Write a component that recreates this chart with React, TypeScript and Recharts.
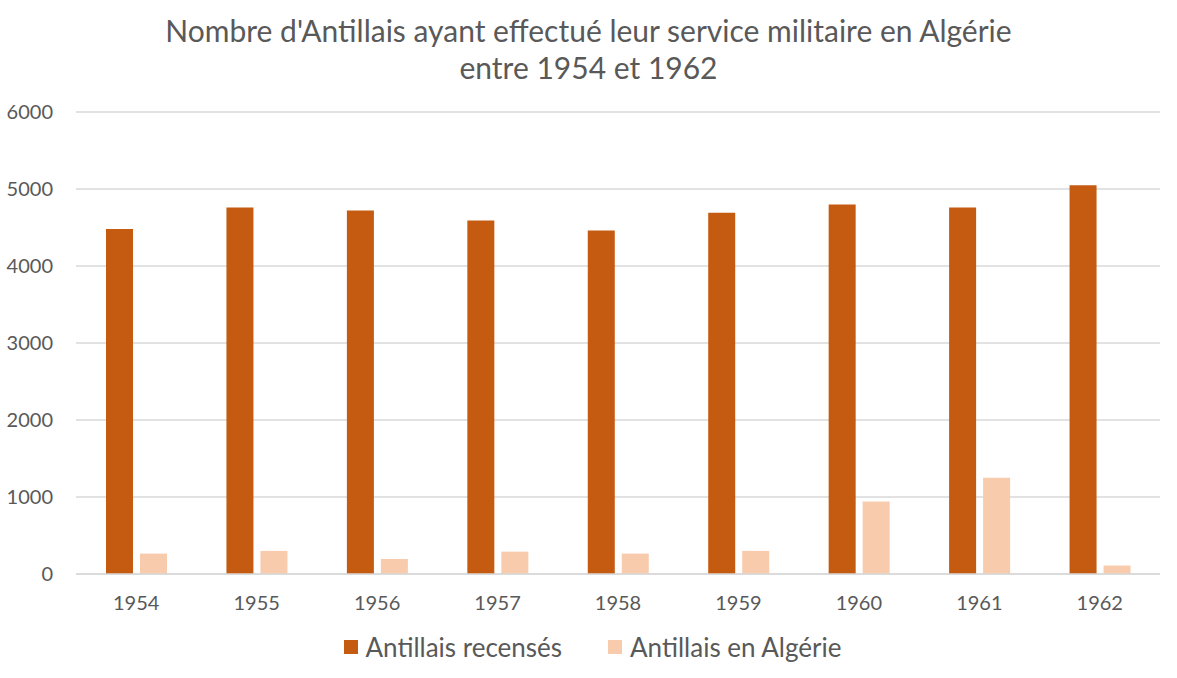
import { BarChart, Bar, XAxis, YAxis, CartesianGrid } from "recharts";

const YEARS = ["1954", "1955", "1956", "1957", "1958", "1959", "1960", "1961", "1962"];
const RECENSES = [4480, 4760, 4720, 4590, 4460, 4690, 4800, 4760, 5050];
const EN_ALGERIE = [265, 300, 195, 290, 265, 300, 940, 1250, 110];
const Y_TICKS = [0, 1000, 2000, 3000, 4000, 5000, 6000];

const SERIES = [
  { key: "recenses", label: "Antillais recensés", color: "#C55A11" },
  { key: "algerie", label: "Antillais en Algérie", color: "#F8CBAD" },
];

const FONT = "Lato, 'Open Sans', sans-serif";
const TEXT = "#595959";

const data = YEARS.map((year, i) => ({
  year,
  recenses: RECENSES[i],
  algerie: EN_ALGERIE[i],
}));

function LegendRow() {
  return (
    <div
      style={{
        position: "absolute",
        top: 630,
        left: 0,
        width: 1177,
        display: "flex",
        justifyContent: "center",
        gap: 46,
        fontFamily: FONT,
        fontSize: 26,
        lineHeight: "34px",
        color: TEXT,
        paddingLeft: 8,
        boxSizing: "border-box",
      }}
    >
      {SERIES.map((s) => (
        <div key={s.key} style={{ display: "flex", alignItems: "center", gap: 8 }}>
          <span style={{ width: 14, height: 14, background: s.color, display: "inline-block" }} />
          <span>{s.label}</span>
        </div>
      ))}
    </div>
  );
}

export default function App() {
  return (
    <div style={{ position: "absolute", left: 0, top: 0, width: 1177, height: 678, background: "#fff" }}>
      <div
        style={{
          position: "absolute",
          top: 12,
          left: 0,
          width: 1177,
          textAlign: "center",
          fontFamily: FONT,
          fontSize: 30,
          lineHeight: "37px",
          color: TEXT,
        }}
      >
        Nombre d'Antillais ayant effectué leur service militaire en Algérie
        <br />
        entre 1954 et 1962
      </div>
      <BarChart
        width={1177}
        height={678}
        data={data}
        margin={{ top: 112, right: 17, bottom: 74, left: 0 }}
        barSize={27}
        barGap={7}
      >
        <CartesianGrid vertical={false} stroke="#D9D9D9" strokeWidth={1.5} />
        <XAxis
          dataKey="year"
          height={30}
          axisLine={{ stroke: "#D9D9D9", strokeWidth: 1.5 }}
          tickLine={false}
          tickMargin={16}
          tick={{ fill: TEXT, fontFamily: FONT, fontSize: 20 }}
        />
        <YAxis
          width={76}
          domain={[0, 6000]}
          ticks={Y_TICKS}
          axisLine={false}
          tickLine={false}
          tickMargin={17}
          tick={{ fill: TEXT, fontFamily: FONT, fontSize: 20 }}
        />
        {SERIES.map((s) => (
          <Bar key={s.key} dataKey={s.key} name={s.label} fill={s.color} isAnimationActive={false} />
        ))}
      </BarChart>
      <LegendRow />
    </div>
  );
}
